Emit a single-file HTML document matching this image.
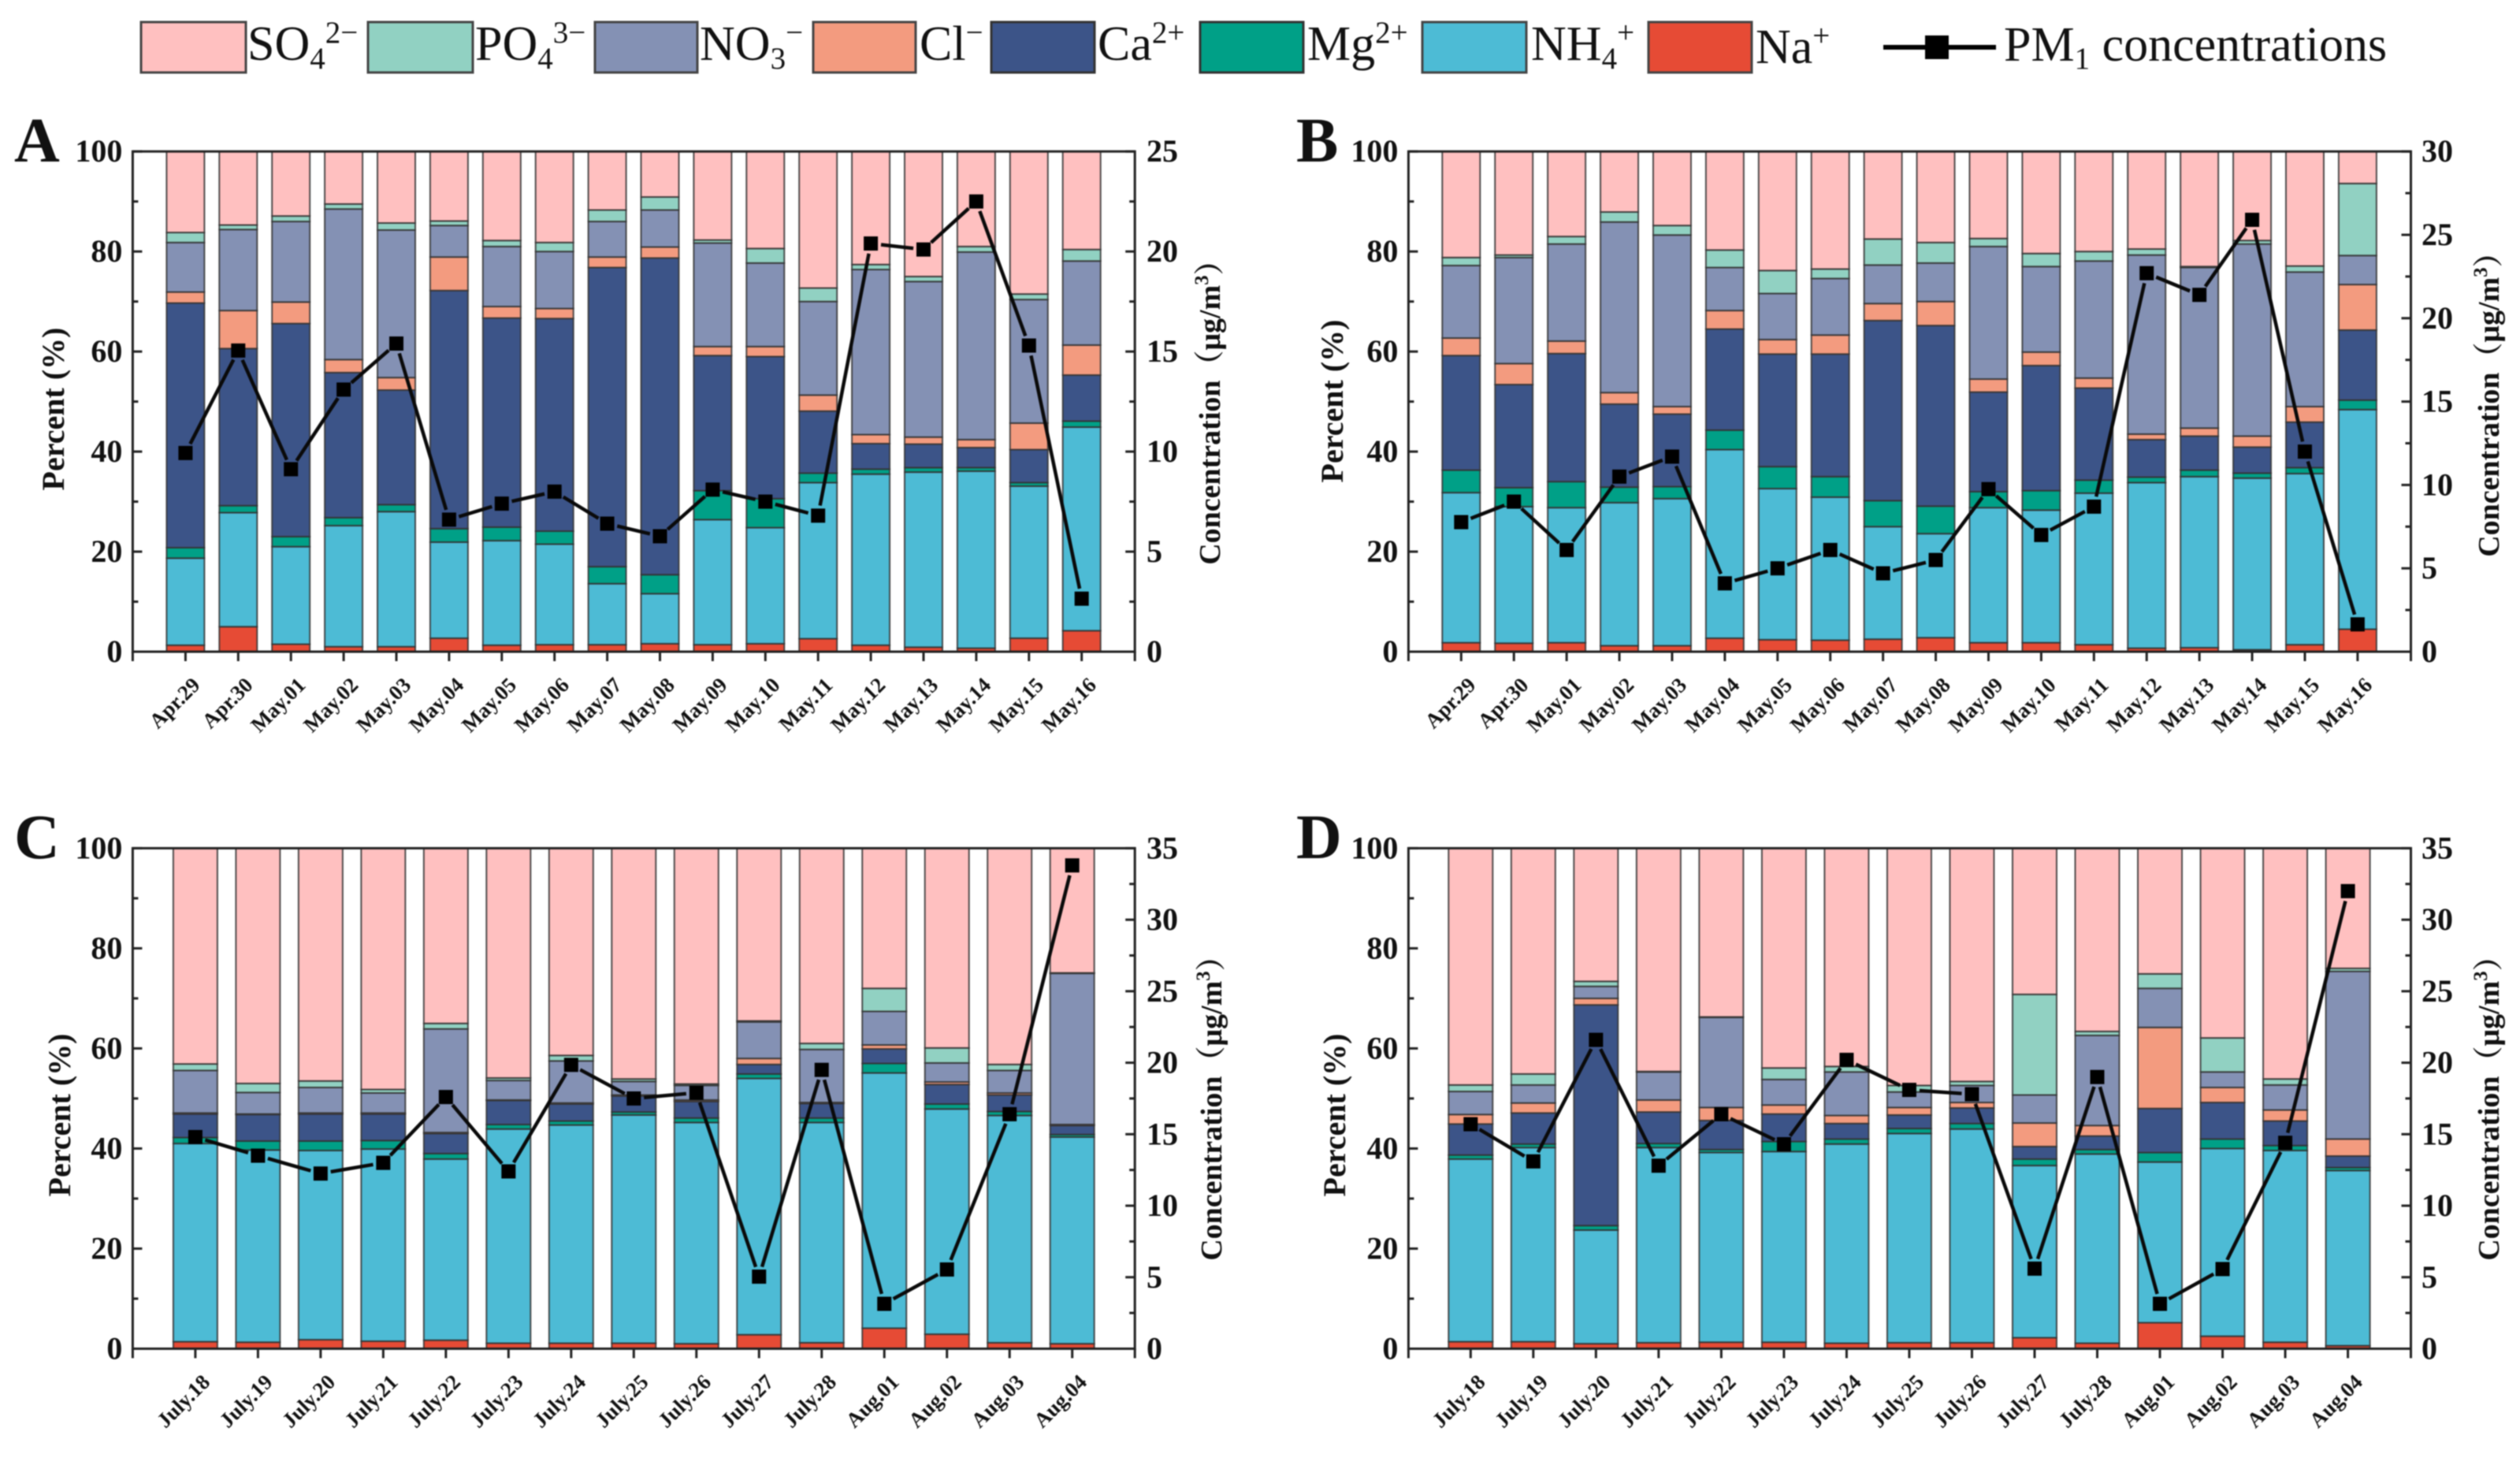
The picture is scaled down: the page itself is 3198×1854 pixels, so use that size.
<!DOCTYPE html>
<html lang="en">
<head>
<meta charset="utf-8">
<title>PM1 ion composition</title>
<style>
html,body{margin:0;padding:0;background:#fff;}
body{width:3198px;height:1854px;overflow:hidden;}
svg{display:block;filter:blur(0.9px);}
text{font-family:"Liberation Serif","Noto Serif CJK SC",serif;fill:#111;}
.tick{font-size:40px;font-weight:bold;}
.xl{font-size:27px;font-weight:bold;}
.title{font-size:40px;font-weight:bold;}
.rtitle{font-size:38px;font-weight:bold;}
.letter{font-size:80px;font-weight:bold;}
.lg{font-size:62px;}
</style>
</head>
<body>
<svg id="fig" xmlns="http://www.w3.org/2000/svg" width="3198" height="1854" viewBox="0 0 3198 1854">
  <rect width="3198" height="1854" fill="#fff"/>
  <g id="legend" stroke-width="0">
    <g>
      <rect x="179" y="28" width="133" height="64" fill="#FFC0C0" stroke="#444" stroke-width="3"/>
      <text class="lg" x="314" y="76">SO<tspan dy="11" font-size="39">4</tspan><tspan dy="-33" font-size="39">2−</tspan></text>
    </g>
    <g>
      <rect x="467" y="28" width="133" height="64" fill="#91D1C2" stroke="#444" stroke-width="3"/>
      <text class="lg" x="603" y="76">PO<tspan dy="11" font-size="39">4</tspan><tspan dy="-33" font-size="39">3−</tspan></text>
    </g>
    <g>
      <rect x="755" y="28" width="130" height="64" fill="#8491B4" stroke="#444" stroke-width="3"/>
      <text class="lg" x="888" y="76">NO<tspan dy="11" font-size="39">3</tspan><tspan dy="-33" font-size="39">−</tspan></text>
    </g>
    <g>
      <rect x="1032" y="28" width="130" height="64" fill="#F39B7F" stroke="#444" stroke-width="3"/>
      <text class="lg" x="1167" y="76">Cl<tspan dy="-22" font-size="39">−</tspan></text>
    </g>
    <g>
      <rect x="1258" y="28" width="131" height="64" fill="#3C5488" stroke="#333" stroke-width="3"/>
      <text class="lg" x="1393" y="76">Ca<tspan dy="-22" font-size="39">2+</tspan></text>
    </g>
    <g>
      <rect x="1523" y="28" width="131" height="64" fill="#00A087" stroke="#333" stroke-width="3"/>
      <text class="lg" x="1659" y="76">Mg<tspan dy="-22" font-size="39">2+</tspan></text>
    </g>
    <g>
      <rect x="1805" y="28" width="132" height="64" fill="#4DBBD5" stroke="#444" stroke-width="3"/>
      <text class="lg" x="1943" y="76">NH<tspan dy="11" font-size="39">4</tspan><tspan dy="-33" font-size="39">+</tspan></text>
    </g>
    <g>
      <rect x="2092" y="28" width="131" height="64" fill="#E64B35" stroke="#444" stroke-width="3"/>
      <text class="lg" x="2228" y="80">Na<tspan dy="-22" font-size="39">+</tspan></text>
    </g>
    <g>
      <line x1="2390" y1="60" x2="2533" y2="60" stroke="#000" stroke-width="6"/>
      <rect x="2443" y="45" width="30" height="30" fill="#000"/>
      <text class="lg" x="2543" y="77">PM<tspan dy="10" font-size="39">1</tspan><tspan dy="-10"> concentrations</tspan></text>
    </g>
  </g>
  <g id="plots"></g>
</svg>
<script>
// ---- categories ----
const datesSpring = ["Apr.29","Apr.30","May.01","May.02","May.03","May.04","May.05","May.06","May.07","May.08","May.09","May.10","May.11","May.12","May.13","May.14","May.15","May.16"];
const datesSummer = ["July.18","July.19","July.20","July.21","July.22","July.23","July.24","July.25","July.26","July.27","July.28","Aug.01","Aug.02","Aug.03","Aug.04"];
const speciesKeys = ["na","nh4","mg","ca","cl","no3","po4","so4"];

// ---- axis tick labels ----
const percentTicks = [0,20,40,60,80,100];
const concTicksA = [0,5,10,15,20,25];
const concTicksB = [0,5,10,15,20,25,30];
const concTicksC = [0,5,10,15,20,25,30,35];
const concTicksD = [0,5,10,15,20,25,30,35];

// ---- panel A values (percent, stacked bottom to top) ----
const aNa  = [1.3,5.0,1.5,1.0,1.0,2.7,1.3,1.4,1.4,1.6,1.4,1.6,2.6,1.3,0.9,0.7,2.7,4.2];
const aNh4 = [17.4,22.8,19.5,24.2,27.0,19.2,20.9,20.1,12.2,10.0,25.0,23.2,31.2,34.2,35.0,35.4,30.4,40.7];
const aMg  = [2.1,1.4,2.0,1.6,1.4,2.7,2.7,2.6,3.4,3.8,5.8,5.8,1.9,1.0,0.9,0.7,0.7,1.2];
const aCa  = [48.9,31.4,42.6,29.0,22.9,47.6,41.8,42.5,59.8,63.3,27.0,28.4,12.4,5.1,4.7,4.0,6.6,9.2];
const aCl  = [2.2,7.6,4.3,2.6,2.5,6.7,2.3,2.0,2.1,2.2,1.8,2.0,3.2,1.8,1.4,1.6,5.3,6.0];
const aNo3 = [9.9,16.2,16.1,30.1,29.5,6.3,12.0,11.4,7.1,7.4,20.7,16.7,18.7,33.0,31.1,37.5,24.7,16.8];
const aPo4 = [2.0,0.9,1.1,1.0,1.4,0.9,1.2,1.8,2.3,2.6,0.6,2.9,2.7,1.0,1.0,1.1,1.1,2.3];
const aSo4 = [16.2,14.7,12.9,10.5,14.3,13.9,17.8,18.2,11.7,9.1,17.7,19.4,27.3,22.6,25.0,19.0,28.5,19.6];
const aPm  = [9.93,15.05,9.12,13.1,15.4,6.6,7.4,8.0,6.4,5.77,8.1,7.5,6.8,20.4,20.1,22.5,15.3,2.65];

// ---- panel B values ----
const bNa  = [1.8,1.7,1.8,1.2,1.2,2.7,2.4,2.3,2.5,2.8,1.8,1.8,1.4,0.7,0.8,0.4,1.4,4.5];
const bNh4 = [30.0,27.3,27.0,28.6,29.4,37.7,30.2,28.6,22.5,20.8,27.0,26.5,30.3,33.1,34.2,34.3,34.2,43.9];
const bMg  = [4.5,3.8,5.2,3.1,2.4,3.9,4.4,4.1,5.2,5.5,3.2,3.9,2.6,1.1,1.3,1.0,1.2,1.9];
const bCa  = [22.9,20.6,25.6,16.6,14.5,20.2,22.5,24.5,36.0,36.1,19.9,25.0,18.4,7.5,6.8,5.2,9.1,14.0];
const bCl  = [3.5,4.2,2.5,2.3,1.5,3.7,2.9,3.8,3.4,4.8,2.6,2.7,2.0,1.1,1.6,2.2,3.1,9.1];
const bNo3 = [14.5,21.2,19.4,34.1,34.3,8.6,9.2,11.3,7.7,7.7,26.5,17.1,23.4,35.8,32.1,38.4,26.9,5.8];
const bPo4 = [1.6,0.5,1.5,2.0,1.9,3.5,4.6,1.9,5.2,4.1,1.6,2.6,1.9,1.2,0.2,0.7,1.2,14.4];
const bSo4 = [21.2,20.7,17.0,12.1,14.8,19.7,23.8,23.5,17.5,18.2,17.4,20.4,20.0,19.5,23.0,17.8,22.9,6.4];
const bPm  = [7.77,9.0,6.1,10.5,11.7,4.1,5.0,6.1,4.7,5.5,9.75,7.0,8.7,22.7,21.4,25.9,12.0,1.64];

// ---- panel C values ----
const cNa  = [1.4,1.3,1.8,1.5,1.7,1.1,1.1,1.1,1.0,2.8,1.2,4.1,2.9,1.2,1.0];
const cNh4 = [39.6,38.4,37.8,38.4,36.2,42.8,43.6,45.6,44.2,51.2,44.0,51.0,45.0,45.4,41.3];
const cMg  = [1.2,1.8,1.9,1.7,1.1,0.9,0.8,0.6,0.9,0.9,0.9,1.9,1.0,0.8,0.5];
const cCa  = [4.7,5.3,5.4,5.3,4.0,4.8,3.4,3.2,3.3,1.9,2.9,2.9,3.9,3.3,1.8];
const cCl  = [0.2,0.1,0.2,0.2,0.2,0.1,0.2,0.2,0.3,1.2,0.2,0.8,0.5,0.4,0.2];
const cNo3 = [8.5,4.3,5.1,4.0,20.7,3.9,8.4,2.7,2.9,7.3,10.6,6.7,3.8,4.5,30.2];
const cPo4 = [1.3,1.8,1.3,0.7,1.1,0.5,1.1,0.5,0.3,0.2,1.2,4.6,3.0,1.2,0.1];
const cSo4 = [43.1,47.0,46.5,48.2,35.0,45.9,41.4,46.1,47.1,34.5,39.0,28.0,39.9,43.2,24.9];
const cPm  = [14.8,13.5,12.25,13.0,17.6,12.4,19.85,17.5,17.9,5.04,19.5,3.14,5.54,16.4,33.8];

// ---- panel D values ----
const dNa  = [1.4,1.4,1.0,1.2,1.3,1.3,1.1,1.2,1.2,2.2,1.1,5.2,2.5,1.3,0.6];
const dNh4 = [36.5,38.8,22.7,39.0,37.9,38.1,39.8,41.8,42.7,34.4,37.8,32.1,37.5,38.3,35.0];
const dMg  = [0.8,0.7,0.9,0.8,0.6,2.0,1.0,1.0,1.1,1.3,0.9,1.9,1.9,1.0,0.6];
const dCa  = [6.2,6.2,44.1,6.3,5.8,5.5,3.1,2.7,3.1,2.5,2.7,8.8,7.3,4.9,2.3];
const dCl  = [1.9,2.0,1.3,2.4,2.6,1.8,1.6,1.5,1.1,4.7,2.1,16.2,3.0,2.2,3.4];
const dNo3 = [4.6,3.6,2.4,5.6,18.0,5.1,8.7,3.1,3.4,5.6,18.0,7.8,3.1,5.0,33.5];
const dPo4 = [1.3,2.2,1.0,0.1,0.1,2.3,1.1,1.3,0.8,20.1,0.8,2.9,6.8,1.2,0.6];
const dSo4 = [47.3,45.1,26.6,44.6,33.7,43.9,43.6,47.4,46.6,29.2,36.6,25.1,37.9,46.1,24.0];
const dPm  = [15.7,13.1,21.6,12.8,16.4,14.3,20.2,18.1,17.8,5.6,19.0,3.14,5.57,14.4,32.0];

// ---- styling & layout (not data) ----
const speciesFill = {na:"#E64B35",nh4:"#4DBBD5",mg:"#00A087",ca:"#3C5488",cl:"#F39B7F",no3:"#8491B4",po4:"#91D1C2",so4:"#FFC0C0"};

const layoutA = {id:"a",letter:"A",letterX:18,letterY:205,left:168.4,right:1440.2,top:192.2,bottom:827,x0:235.4,x1:1372.7,barW:48,titleX:81,titleY:519,rTitleX:1548,rTitleY:514,rTickX:1455};
const layoutB = {id:"b",letter:"B",letterX:1645,letterY:205,left:1787.4,right:3059.5,top:192.2,bottom:827,x0:1854.3,x1:2991.9,barW:48,titleX:1704,titleY:509,rTitleX:3171,rTitleY:504,rTickX:3073};
const layoutC = {id:"c",letter:"C",letterX:18,letterY:1089,left:168.4,right:1440.2,top:1076.4,bottom:1711.5,x0:247.9,x1:1360.7,barW:56,titleX:89,titleY:1415,rTitleX:1550,rTitleY:1397,rTickX:1455};
const layoutD = {id:"d",letter:"D",letterX:1645,letterY:1089,left:1787.4,right:3059.5,top:1076.4,bottom:1711.5,x0:1866.3,x1:2979.6,barW:56,titleX:1707,titleY:1415,rTitleX:3171,rTitleY:1397,rTickX:3073};

const NS = "http://www.w3.org/2000/svg";
const host = document.getElementById("plots");

function make(tag, attrs, parent) {
  const el = document.createElementNS(NS, tag);
  for (const k in attrs) el.setAttribute(k, attrs[k]);
  parent.appendChild(el);
  return el;
}

function drawPanel(L, cats, stack, pm, concTicks) {
  const g = make("g", {}, host);
  
  

  const xOf = i => L.x0 + i * (L.x1 - L.x0) / (cats.length - 1);
  const yPct = v => L.bottom - (v / 100) * (L.bottom - L.top);
  const concMax = concTicks[concTicks.length - 1];
  const yConc = v => L.bottom - (v / concMax) * (L.bottom - L.top);

  // stacked bars
  cats.forEach((cat, i) => {
    let base = 0;
    speciesKeys.forEach((key, s) => {
      const val = stack[s][i];
      const top = base + val;
      const r = make("rect", {
        x: xOf(i) - L.barW / 2,
        y: yPct(top),
        width: L.barW,
        height: Math.max(0, yPct(base) - yPct(top)),
        fill: speciesFill[key],
        stroke: "#333",
        "stroke-opacity": "0.85",
        "stroke-width": 2
      }, g);
      
      
      base = top;
    });
  });

  // frame
  const frame = make("rect", {x:L.left,y:L.top,width:L.right-L.left,height:L.bottom-L.top,fill:"none",stroke:"#222","stroke-width":3}, g);
  
  

  // left axis
  percentTicks.forEach(v => {
    const y = yPct(v);
    const t = make("line", {x1:L.left,x2:L.left+12,y1:y,y2:y,stroke:"#222","stroke-width":3}, g);
    
    
    const lab = make("text", {class:"tick",x:L.left-13,y:y+13,"text-anchor":"end"}, g);
    
    
    lab.textContent = v;
    if (v < 100) {
      const ym = yPct(v + 10);
      const m = make("line", {x1:L.left,x2:L.left+7,y1:ym,y2:ym,stroke:"#222","stroke-width":3}, g);
      
      
    }
  });

  // right axis
  concTicks.forEach(v => {
    const y = yConc(v);
    const t = make("line", {x1:L.right-12,x2:L.right,y1:y,y2:y,stroke:"#222","stroke-width":3}, g);
    
    
    const lab = make("text", {class:"tick",x:L.rTickX,y:y+13,"text-anchor":"start"}, g);
    
    
    lab.textContent = v;
    if (v < concMax) {
      const ym = yConc(v + 2.5);
      const m = make("line", {x1:L.right-7,x2:L.right,y1:ym,y2:ym,stroke:"#222","stroke-width":3}, g);
      
      
    }
  });

  // bottom axis
  [L.left, L.right].forEach(x => {
    const c = make("line", {x1:x,x2:x,y1:L.bottom,y2:L.bottom+12,stroke:"#222","stroke-width":3}, g);
    
    
  });
  cats.forEach((cat, i) => {
    const x = xOf(i);
    const t = make("line", {x1:x,x2:x,y1:L.bottom,y2:L.bottom+12,stroke:"#222","stroke-width":3}, g);
    
    
    const lx = x + 20, ly = L.bottom + 44;
    const lab = make("text", {class:"xl",x:lx,y:ly,"text-anchor":"end",transform:"rotate(-45 "+lx+" "+ly+")"}, g);
    
    
    lab.textContent = cat;
  });

  // PM1 line with Origin-style gaps at symbols
  const pts = pm.map((v, i) => [xOf(i), yConc(v)]);
  const gap = 13;
  pts.forEach((p, i) => {
    if (i === 0) return;
    const q = pts[i - 1];
    const dx = p[0] - q[0], dy = p[1] - q[1];
    const d = Math.hypot(dx, dy);
    const ux = dx / d, uy = dy / d;
    const seg = make("line", {x1:q[0]+ux*gap,y1:q[1]+uy*gap,x2:p[0]-ux*gap,y2:p[1]-uy*gap,stroke:"#0a0a0a","stroke-width":4.5}, g);
    
    
  });
  pts.forEach((p, i) => {
    const mk = make("rect", {x:p[0]-9,y:p[1]-9,width:18,height:18,fill:"#000"}, g);
    
    
  });

  // titles
  const letter = make("text", {class:"letter",x:L.letterX,y:L.letterY}, g);
  
  
  letter.textContent = L.letter;

  const yt = make("text", {class:"title",x:L.titleX,y:L.titleY,"text-anchor":"middle",transform:"rotate(-90 "+L.titleX+" "+L.titleY+")"}, g);
  
  
  yt.textContent = "Percent (%)";

  const rt = make("text", {class:"rtitle",x:L.rTitleX,y:L.rTitleY,"text-anchor":"middle",transform:"rotate(-90 "+L.rTitleX+" "+L.rTitleY+")"}, g);
  
  
  rt.appendChild(document.createTextNode("Concentration（μg/m"));
  const sup = make("tspan", {dy:-15,"font-size":25}, rt);
  sup.textContent = "3";
  const close = make("tspan", {dy:15}, rt);
  close.textContent = "）";
}

drawPanel(layoutA, datesSpring, [aNa,aNh4,aMg,aCa,aCl,aNo3,aPo4,aSo4], aPm, concTicksA);
drawPanel(layoutB, datesSpring, [bNa,bNh4,bMg,bCa,bCl,bNo3,bPo4,bSo4], bPm, concTicksB);
drawPanel(layoutC, datesSummer, [cNa,cNh4,cMg,cCa,cCl,cNo3,cPo4,cSo4], cPm, concTicksC);
drawPanel(layoutD, datesSummer, [dNa,dNh4,dMg,dCa,dCl,dNo3,dPo4,dSo4], dPm, concTicksD);
</script>
</body>
</html>
